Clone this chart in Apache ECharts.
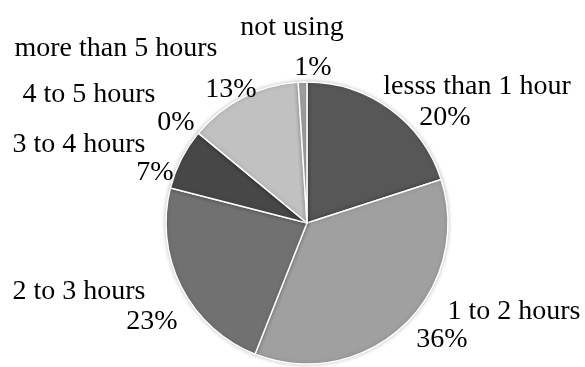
<!DOCTYPE html>
<html>
<head>
<meta charset="utf-8">
<script src="https://cdn.jsdelivr.net/npm/echarts@6/dist/echarts.min.js"></script>
<style>html,body{margin:0;padding:0;background:#fff}#c{width:585px;height:367px}</style>
</head>
<body>
<div id="c"></div>
<script>
// Data
const categories = ['lesss than 1 hour', '1 to 2 hours', '2 to 3 hours', '3 to 4 hours', '4 to 5 hours', 'more than 5 hours', 'not using'];
const values = [20, 36, 23, 7, 0, 13, 1];
const sliceColors = ['#575757', '#a0a0a0', '#717171', '#474747', '#8a8a8a', '#c1c1c1', '#a0a0a0'];

// Label layout (manually placed labels, as in the reference)
const nameLabelPos = [[477, 87], [514, 312], [79, 292], [79, 145], [89, 95], [116, 49], [292, 28]];
const pctLabelPos = [[445, 118], [442, 340], [152, 322], [155, 173], [176, 123], [231, 90], [313, 68]];

const FONT = '"Liberation Serif", "Times New Roman", serif';
const FS = 28;

const data = categories.map((c, i) => ({ name: c, value: values[i], itemStyle: { color: sliceColors[i] } }));
const total = values.reduce((a, b) => a + b, 0);

const chart = echarts.init(document.getElementById('c'), null, { renderer: 'canvas' });
chart.setOption({
  animation: false,
  backgroundColor: '#ffffff',
  series: [
    {
      type: 'pie',
      center: [307, 223],
      radius: [0, 141],
      startAngle: 90,
      clockwise: true,
      avoidLabelOverlap: false,
      minShowLabelAngle: 0,
      data: data,
      itemStyle: { borderColor: '#ffffff', borderWidth: 1.5, shadowBlur: 4, shadowColor: 'rgba(0,0,0,0.22)' },
      label: { show: true, position: 'outside', formatter: '{b}', fontFamily: FONT, fontSize: FS, color: '#000' },
      labelLine: { show: false },
      labelLayout: function (p) {
        const pos = nameLabelPos[p.dataIndex];
        return { x: pos[0], y: pos[1], align: 'center', verticalAlign: 'middle' };
      },
      emphasis: { disabled: true }
    },
    {
      type: 'pie',
      center: [307, 223],
      radius: [0, 141],
      startAngle: 90,
      clockwise: true,
      silent: true,
      avoidLabelOverlap: false,
      minShowLabelAngle: 0,
      data: categories.map((c, i) => ({ name: c, value: values[i] })),
      itemStyle: { color: 'rgba(0,0,0,0)', borderWidth: 0 },
      label: {
        show: true, position: 'outside', fontFamily: FONT, fontSize: FS, color: '#000',
        formatter: function (p) { return Math.round(p.value / total * 100) + '%'; }
      },
      labelLine: { show: false },
      labelLayout: function (p) {
        const pos = pctLabelPos[p.dataIndex];
        return { x: pos[0], y: pos[1], align: 'center', verticalAlign: 'middle' };
      },
      emphasis: { disabled: true }
    }
  ]
});
</script>
</body>
</html>
